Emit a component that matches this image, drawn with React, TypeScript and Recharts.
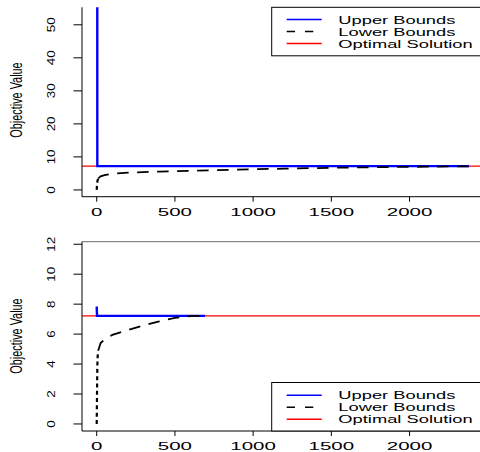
import React from "react";
import { ComposedChart, Line, XAxis, YAxis, ReferenceLine } from "recharts";

// ---------- data ----------
const xTicks = [0, 500, 1000, 1500, 2000];
const topYTicks = [0, 10, 20, 30, 40, 50];
const bottomYTicks = [0, 2, 4, 6, 8, 10, 12];
const optimalValue = 7.22;

const topUpperX = [1, 4, 2380];
const topUpperY = [400, 7.22, 7.22];

const topLowerX = [0, 2, 5, 10, 25, 50, 100, 200, 400, 600, 900, 1200, 1500, 1800, 2100, 2380];
const topLowerY = [0, 1.5, 2.8, 3.5, 4.1, 4.5, 4.95, 5.25, 5.55, 5.8, 6.15, 6.45, 6.7, 6.9, 7.05, 7.15];
const topSteepCount = 4;

const bottomUpperX = [0, 2, 692];
const bottomUpperY = [7.84, 7.22, 7.22];

const bottomLowerX = [0, 1, 2, 3, 4, 6, 10, 25, 50, 100, 200, 300, 400, 500, 600, 692];
const bottomLowerY = [0, 1.0, 2.0, 3.0, 3.8, 4.5, 4.9, 5.4, 5.65, 5.95, 6.28, 6.58, 6.85, 7.08, 7.2, 7.22];
const bottomSteepCount = 7;

const legendLabels = ["Upper Bounds", "Lower Bounds", "Optimal Solution"];
const yTitle = "Objective Value";

// ---------- helpers ----------
const toPts = (xs: number[], ys: number[]) => xs.map((x, i) => ({ x, y: ys[i] }));
const topUpper = toPts(topUpperX, topUpperY);
const topLower = toPts(topLowerX, topLowerY);
const topLowerSteep = topLower.slice(0, topSteepCount);
const topLowerFlat = topLower.slice(topSteepCount - 1);
const bottomUpper = toPts(bottomUpperX, bottomUpperY);
const bottomLower = toPts(bottomLowerX, bottomLowerY);
const bottomLowerSteep = bottomLower.slice(0, bottomSteepCount);
const bottomLowerFlat = bottomLower.slice(bottomSteepCount - 1);

const FONT = "'Liberation Sans', Arial, Helvetica, sans-serif";
const xDomain: [number, number] = [-94, 2476];
const topYDomain: [number, number] = [-2.05, 55.3];
const bottomYDomain: [number, number] = [-0.47, 12.17];

const XTick = (props: any) => {
  const { x, y, payload } = props;
  return (
    <text
      transform={`translate(${x},${y + 11.9}) scale(1.95,1)`}
      textAnchor="middle"
      fontSize={10.5}
      fontFamily={FONT}
      fill="#000"
    >
      {payload.value}
    </text>
  );
};

const YTick = (props: any) => {
  const { x, y, payload } = props;
  return (
    <text
      transform={`translate(${x - 16.6},${y}) scale(1,1.22) rotate(-90)`}
      textAnchor="middle"
      fontSize={11}
      fontFamily={FONT}
      fill="#000"
    >
      {payload.value}
    </text>
  );
};

const Panel = ({
  upper,
  steep,
  flat,
  yDomain,
  yTicks,
  marginTop,
  xAxisHeight,
  topBorder,
}: any) => (
  <ComposedChart
    width={484}
    height={226}
    margin={{ top: marginTop, right: 0, bottom: 0, left: 0 }}
  >
    <XAxis
      type="number"
      dataKey="x"
      domain={xDomain}
      allowDataOverflow
      ticks={xTicks}
      interval={0}
      height={xAxisHeight}
      tickSize={5}
      tickMargin={2}
      axisLine={{ stroke: "#000", strokeWidth: 1 }}
      tickLine={{ stroke: "#000", strokeWidth: 1 }}
      tick={<XTick />}
    />
    <YAxis
      type="number"
      domain={yDomain}
      allowDataOverflow
      ticks={yTicks}
      interval={0}
      width={82}
      tickSize={8.5}
      tickMargin={2}
      axisLine={{ stroke: "#000", strokeWidth: 1 }}
      tickLine={{ stroke: "#000", strokeWidth: 1 }}
      tick={<YTick />}
    />
    {topBorder ? (
      <ReferenceLine y={yDomain[1]} stroke="#888" strokeWidth={1.2} />
    ) : null}
    <ReferenceLine y={optimalValue} stroke="#ff0000" strokeWidth={1.2} />
    <Line
      data={upper}
      dataKey="y"
      type="linear"
      stroke="#0000ff"
      strokeWidth={2.4}
      dot={false}
      isAnimationActive={false}
    />
    <Line
      data={steep}
      dataKey="y"
      type="linear"
      stroke="#000"
      strokeWidth={2.2}
      strokeDasharray="4 3.3"
      dot={false}
      isAnimationActive={false}
    />
    <Line
      data={flat}
      dataKey="y"
      type="linear"
      stroke="#000"
      strokeWidth={1.8}
      strokeDasharray="11.5 8.5"
      dot={false}
      isAnimationActive={false}
    />
  </ComposedChart>
);

const LegendBox = ({ top, rows }: { top: number; rows: number[] }) => (
  <g>
    <rect x={271.7} y={top} width={230} height={48.5} fill="#fff" stroke="#000" strokeWidth={1} />
    <line x1={286.7} x2={321.7} y1={rows[0]} y2={rows[0]} stroke="#0000ff" strokeWidth={1.6} />
    <line x1={286.7} x2={321.7} y1={rows[1]} y2={rows[1]} stroke="#000" strokeWidth={1.6} strokeDasharray="8.3 10" />
    <line x1={286.7} x2={321.7} y1={rows[2]} y2={rows[2]} stroke="#ff0000" strokeWidth={1.6} />
    {legendLabels.map((l, i) => (
      <text
        key={l}
        transform={`translate(338.3,${rows[i] + 4.1}) scale(1.58,1)`}
        fontSize={11.6}
        fontFamily={FONT}
        fill="#000"
      >
        {l}
      </text>
    ))}
  </g>
);

export default function App() {
  return (
    <div
      style={{
        position: "absolute",
        left: 0,
        top: 0,
        width: 480,
        height: 452,
        overflow: "hidden",
        background: "#fff",
      }}
    >
      <div style={{ position: "absolute", left: 0, top: 0 }}>
        <Panel
          upper={topUpper}
          steep={topLowerSteep}
          flat={topLowerFlat}
          yDomain={topYDomain}
          yTicks={topYTicks}
          marginTop={7.3}
          xAxisHeight={29.3}
          topBorder={false}
        />
      </div>
      <div style={{ position: "absolute", left: 0, top: 226 }}>
        <Panel
          upper={bottomUpper}
          steep={bottomLowerSteep}
          flat={bottomLowerFlat}
          yDomain={bottomYDomain}
          yTicks={bottomYTicks}
          marginTop={15.7}
          xAxisHeight={21}
          topBorder={true}
        />
      </div>
      <svg
        width={480}
        height={452}
        style={{ position: "absolute", left: 0, top: 0, pointerEvents: "none" }}
      >
        <LegendBox top={7.3} rows={[19.5, 31.5, 43.5]} />
        <LegendBox top={382.5} rows={[395.2, 407.2, 419.2]} />
        {[100, 336].map((cy) => (
          <text
            key={cy}
            transform={`translate(22,${cy}) scale(1,0.68) rotate(-90)`}
            textAnchor="middle"
            fontSize={16}
            fontFamily={FONT}
            fill="#000"
          >
            {yTitle}
          </text>
        ))}
      </svg>
    </div>
  );
}
